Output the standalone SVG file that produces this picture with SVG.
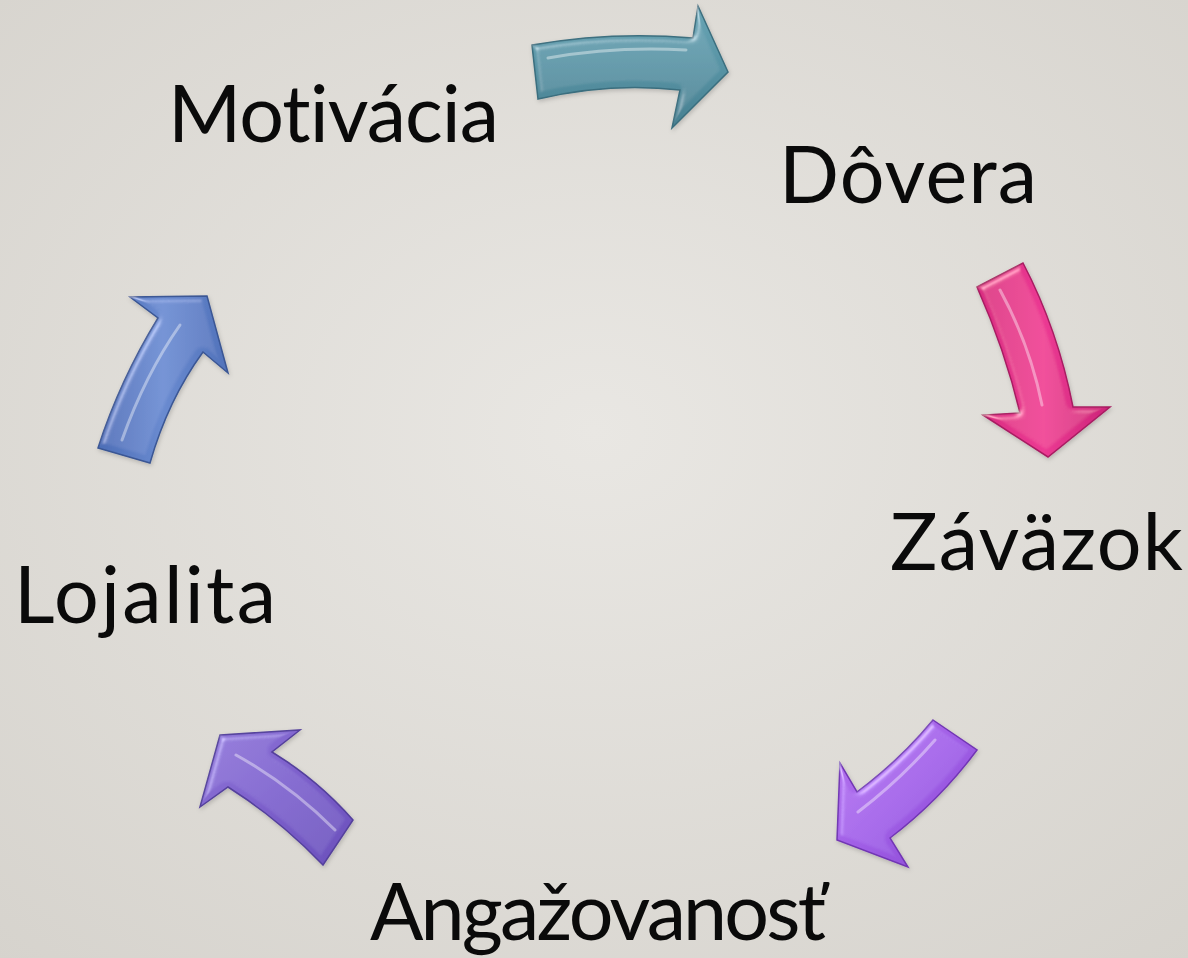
<svg xmlns="http://www.w3.org/2000/svg" width="1188" height="958" viewBox="0 0 1188 958">
  <defs>
    <radialGradient id="bg" cx="50%" cy="45%" r="75%">
      <stop offset="0" stop-color="#e9e7e3"/>
      <stop offset="1" stop-color="#d6d3cd"/>
    </radialGradient>
    <linearGradient id="gTeal" x1="0" y1="0" x2="0" y2="1">
      <stop offset="0" stop-color="#6aa5b5"/>
      <stop offset="0.5" stop-color="#5793a4"/>
      <stop offset="1" stop-color="#477f90"/>
    </linearGradient>
    <linearGradient id="gPink" x1="0" y1="0" x2="1" y2="0">
      <stop offset="0" stop-color="#d82a80"/>
      <stop offset="0.5" stop-color="#ec3a93"/>
      <stop offset="1" stop-color="#cc2479"/>
    </linearGradient>
    <linearGradient id="gViolet" x1="0" y1="0" x2="1" y2="1">
      <stop offset="0" stop-color="#b878f0"/>
      <stop offset="0.5" stop-color="#a05ee6"/>
      <stop offset="1" stop-color="#8848d2"/>
    </linearGradient>
    <linearGradient id="gPurple" x1="0" y1="0" x2="1" y2="1">
      <stop offset="0" stop-color="#8f76d8"/>
      <stop offset="0.5" stop-color="#7c5fcb"/>
      <stop offset="1" stop-color="#6a50bb"/>
    </linearGradient>
    <linearGradient id="gBlue" x1="0" y1="0" x2="1" y2="0">
      <stop offset="0" stop-color="#4c6db6"/>
      <stop offset="0.5" stop-color="#6a8bd0"/>
      <stop offset="1" stop-color="#5172ba"/>
    </linearGradient>
    <filter id="bevel" x="-20%" y="-20%" width="140%" height="140%">
      <feGaussianBlur in="SourceAlpha" stdDeviation="3" result="blur"/>
      <feSpecularLighting in="blur" surfaceScale="5" specularConstant="0.6" specularExponent="22" lighting-color="#ffffff" result="spec">
        <feDistantLight azimuth="225" elevation="40"/>
      </feSpecularLighting>
      <feComposite in="spec" in2="SourceAlpha" operator="in" result="specIn"/>
      <feComposite in="SourceGraphic" in2="specIn" operator="arithmetic" k1="0" k2="1" k3="0.55" k4="0" result="lit"/>
      <feGaussianBlur in="SourceAlpha" stdDeviation="2" result="sb"/>
      <feOffset in="sb" dx="1" dy="2" result="so"/>
      <feFlood flood-color="#000" flood-opacity="0.18"/>
      <feComposite in2="so" operator="in" result="shadow"/>
      <feMerge>
        <feMergeNode in="shadow"/>
        <feMergeNode in="lit"/>
      </feMerge>
    </filter>
    <style>
      .lbl { font-family: Lato, "Open Sans", "Liberation Sans", sans-serif; font-size: 79px; fill: #0a0a0a; text-anchor: middle; font-variant-ligatures: none; font-feature-settings: "liga" 0, "clig" 0; }
      .arrow { filter: url(#bevel); stroke-width: 1.5; stroke-linejoin: miter; }
      .hl { fill: none; stroke: #ffffff; stroke-opacity: 0.4; stroke-width: 3; stroke-linecap: round; }
    </style>
  </defs>

  <rect width="1188" height="958" fill="url(#bg)"/>

  <g id="connectors">
    <g id="arrow-motivacia-dovera">
      <path class="arrow" fill="url(#gTeal)" stroke="#3a6e7e"
            d="M532,45 Q612,31 693,38 L698,6 L728,72 L672,128 L680,90 Q610,82 538,99 Z"/>
      <path class="hl" d="M548,58 Q615,46 686,50"/>
    </g>
    <g id="arrow-dovera-zavazok">
      <path class="arrow" fill="url(#gPink)" stroke="#a81c62"
            d="M977,287 L1023,263 Q1058,330 1073,407 L1110,407 L1048,457 L983,415 L1020,413 Q1005,350 977,287 Z"/>
      <path class="hl" d="M1000,290 Q1030,345 1042,405"/>
    </g>
    <g id="arrow-zavazok-angazovanost">
      <path class="arrow" fill="url(#gViolet)" stroke="#7236b4"
            d="M933,720 L977,750 Q940,800 890,838 L908,867 L837,840 L840,763 L857,792 Q900,760 933,720 Z"/>
      <path class="hl" d="M935,740 Q900,780 858,812"/>
    </g>
    <g id="arrow-angazovanost-lojalita">
      <path class="arrow" fill="url(#gPurple)" stroke="#54409c"
            d="M220,735 L300,730 L272,752 Q318,780 353,820 L323,865 Q280,820 228,787 L200,807 Z"/>
      <path class="hl" d="M236,755 Q290,785 335,830"/>
    </g>
    <g id="arrow-lojalita-motivacia">
      <path class="arrow" fill="url(#gBlue)" stroke="#3a5694"
            d="M98,448 Q120,380 158,318 L130,297 L207,296 L228,373 L203,352 Q168,400 150,463 Z"/>
      <path class="hl" d="M122,440 Q145,375 180,325"/>
    </g>
  </g>

  <g id="node-motivacia"><text class="lbl" x="333.5" y="142" textLength="331">Motivácia</text></g>
  <g id="node-dovera"><text class="lbl" x="908" y="203" textLength="258">Dôvera</text></g>
  <g id="node-zavazok"><text class="lbl" x="1036.5" y="570" textLength="293">Záväzok</text></g>
  <g id="node-angazovanost"><text class="lbl" x="598" y="940" textLength="456">Angažovanosť</text></g>
  <g id="node-lojalita"><text class="lbl" x="145" y="623" textLength="262">Lojalita</text></g>
</svg>
